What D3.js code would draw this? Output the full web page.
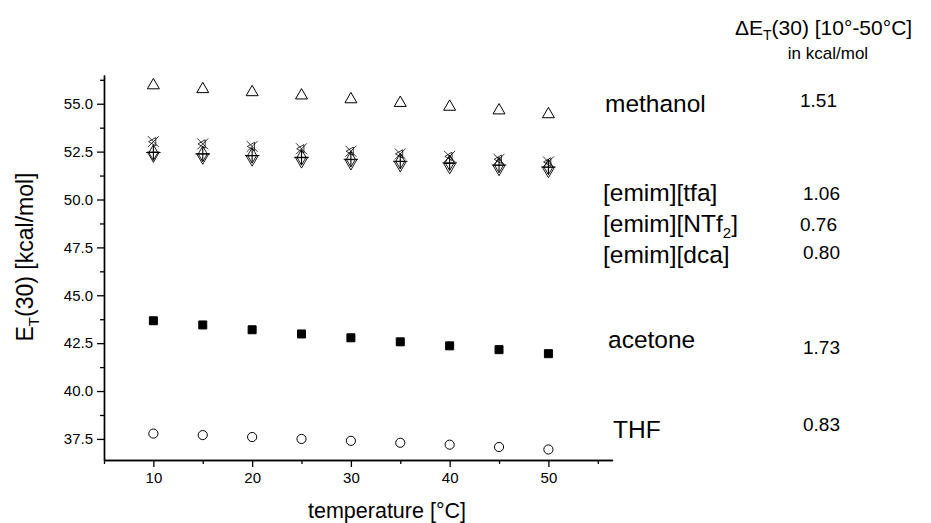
<!DOCTYPE html>
<html>
<head>
<meta charset="utf-8">
<script src="https://cdnjs.cloudflare.com/ajax/libs/d3/7.8.5/d3.min.js"></script>
<style>
  body { margin: 0; background: #fff; }
  svg text { font-family: "Liberation Sans", Arial, sans-serif; fill: #000; }
</style>
</head>
<body>
<div id="chart"></div>
<script>
// temperature [°C]
var temps = [10, 15, 20, 25, 30, 35, 40, 45, 50];

// E_T(30) values in kcal/mol
var methanol = [55.96, 55.76, 55.6, 55.43, 55.23, 55.04, 54.84, 54.65, 54.45];
var tfa      = [53.02, 52.9, 52.77, 52.65, 52.52, 52.38, 52.25, 52.1, 51.96];
var ntf2     = [52.45, 52.38, 52.3, 52.2, 52.1, 52.0, 51.92, 51.8, 51.7];
var dca      = [52.3, 52.2, 52.1, 52.0, 51.9, 51.8, 51.7, 51.6, 51.5];
var acetone  = [43.67, 43.45, 43.2, 42.98, 42.78, 42.57, 42.36, 42.16, 41.95];
var thf      = [37.78, 37.7, 37.6, 37.5, 37.4, 37.3, 37.2, 37.08, 36.95];

var xTicks = [10, 20, 30, 40, 50];
var yTicks = [37.5, 40.0, 42.5, 45.0, 47.5, 50.0, 52.5, 55.0];

// right side annotation
var names  = ["methanol", "[emim][tfa]", "[emim][NTf|2|]", "[emim][dca]", "acetone", "THF"];
var deltas = ["1.51", "1.06", "0.76", "0.80", "1.73", "0.83"];

var width = 931, height = 523;

var x = d3.scaleLinear().domain([5, 56.5]).range([104, 612.6]);
var y = d3.scaleLinear().domain([36.4, 56.5]).range([460, 75]);

var svg = d3.select("#chart").append("svg")
    .attr("width", width)
    .attr("height", height);

// axes, minor ticks first
var xMinor = d3.range(5, 56, 5).filter(function(v) { return xTicks.indexOf(v) < 0; });
var yMinor = d3.range(38.75, 56.5, 2.5);

svg.append("g")
    .attr("transform", "translate(0,460)")
    .call(d3.axisBottom(x).tickValues(xMinor).tickSize(4).tickSizeOuter(0).tickFormat(""));
svg.append("g")
    .attr("transform", "translate(104,0)")
    .call(d3.axisLeft(y).tickValues(yMinor).tickSize(4).tickSizeOuter(0).tickFormat(""));

svg.append("g")
    .attr("transform", "translate(0,460)")
    .call(d3.axisBottom(x).tickValues(xTicks).tickSize(7).tickSizeOuter(0).tickPadding(5));
svg.append("g")
    .attr("transform", "translate(104,0)")
    .call(d3.axisLeft(y).tickValues(yTicks).tickSize(7).tickSizeOuter(0).tickPadding(4)
        .tickFormat(d3.format(".1f")));

svg.selectAll(".domain").attr("stroke", "#000").attr("stroke-width", 1.4);
svg.selectAll(".tick line").attr("stroke", "#000").attr("stroke-width", 1.3);
svg.selectAll(".tick text").style("font-size", "15px")
    .style("font-family", "'Liberation Sans', Arial, sans-serif");

// axis titles
svg.append("text")
    .attr("x", 387).attr("y", 518)
    .attr("text-anchor", "middle")
    .style("font-size", "21.5px")
    .text("temperature [°C]");

var ylab = svg.append("text")
    .attr("transform", "translate(33,257) rotate(-90)")
    .attr("text-anchor", "middle")
    .style("font-size", "23px");
ylab.append("tspan").text("E");
ylab.append("tspan").attr("dy", 6).style("font-size", "15px").text("T");
ylab.append("tspan").attr("dy", -6).text("(30) [kcal/mol]");

// markers
function series(vals, sym, size, fill, rot, sw) {
    var g = svg.append("g");
    g.selectAll("path")
        .data(vals)
        .enter().append("path")
        .attr("d", d3.symbol().type(sym).size(size))
        .attr("transform", function(d, i) {
            return "translate(" + x(temps[i]) + "," + y(d) + ")" + (rot ? " rotate(" + rot + ")" : "");
        })
        .attr("fill", fill)
        .attr("stroke", "#000")
        .attr("stroke-width", sw || 1);
}

series(methanol, d3.symbolTriangle, 62, "none", 0);
series(dca, d3.symbolTriangle, 62, "none", 180, 0.9);
series(ntf2, d3.symbolDiamond, 70, "none", 0, 0.9);
series(ntf2, d3.symbolPlus, 70, "none", 0, 1.1);
series(tfa, d3.symbolTimes, 80, "none", 0, 0.8);
series(tfa, d3.symbolTriangle, 30, "none", -90, 0.8);
series(acetone, d3.symbolSquare, 64, "#000", 0, 0);
series(thf, d3.symbolCircle, 66, "none", 0, 1);

// annotation on the right
var title = svg.append("text").attr("x", 735).attr("y", 35).style("font-size", "21px");
title.append("tspan").text("ΔE");
title.append("tspan").attr("dy", 5).style("font-size", "14px").text("T");
title.append("tspan").attr("dy", -5).text("(30) [10°-50°C]");
svg.append("text").attr("x", 828).attr("y", 59).attr("text-anchor", "middle")
    .style("font-size", "17px").text("in kcal/mol");

var nameX = [605, 603, 603, 603, 608, 613];
var nameY = [112, 201, 232, 263, 348, 438];
var valX  = [800, 803, 800, 803, 803, 803];
var valY  = [107, 200, 231, 259, 354, 431];

names.forEach(function(n, i) {
    var t = svg.append("text").attr("x", nameX[i]).attr("y", nameY[i]).style("font-size", "24.5px");
    var parts = n.split("|");
    t.append("tspan").text(parts[0]);
    if (parts.length > 1) {
        t.append("tspan").attr("dy", 6).style("font-size", "15px").text(parts[1]);
        t.append("tspan").attr("dy", -6).text(parts[2]);
    }
});
deltas.forEach(function(v, i) {
    svg.append("text").attr("x", valX[i]).attr("y", valY[i]).style("font-size", "19px").text(v);
});
</script>
</body>
</html>
